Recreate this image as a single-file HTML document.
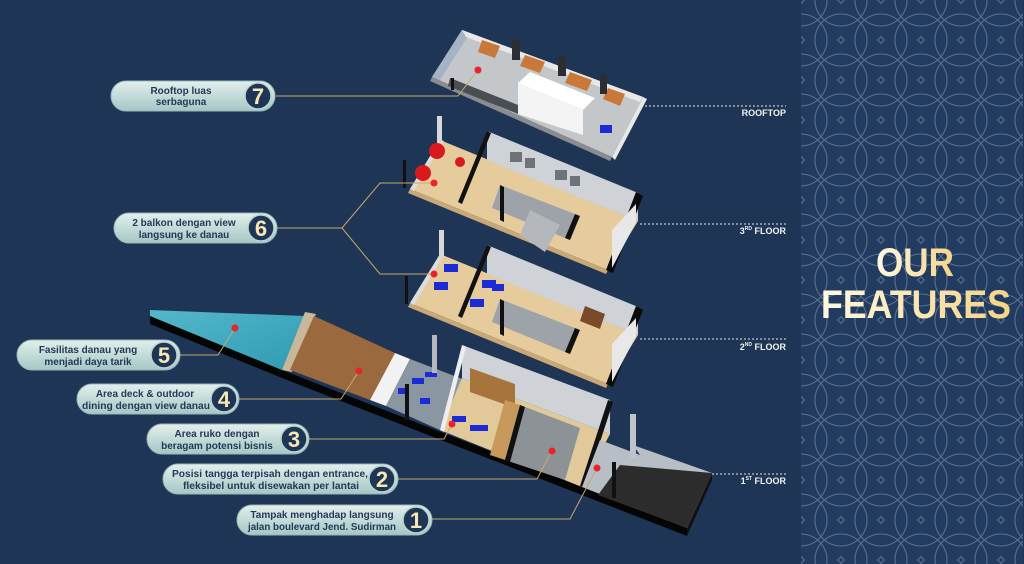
<!DOCTYPE html>
<html><head><meta charset="utf-8"><style>
html,body{margin:0;padding:0;background:#1e3555;}
svg{display:block}
.pt{font-family:"Liberation Sans",sans-serif;font-size:10px;font-weight:bold;fill:#26375a;text-anchor:middle}
.num{font-family:"Liberation Sans",sans-serif;font-size:22px;font-weight:bold;fill:#f8e6b4;text-anchor:middle}
.fl{font-family:"Liberation Sans",sans-serif;font-size:9px;font-weight:bold;fill:#f2f2f2;text-anchor:end}
.ln{stroke:#c9a86c;stroke-width:1;fill:none}
.dot{fill:#e8242a}
</style></head><body>
<svg width="1024" height="564" viewBox="0 0 1024 564" xmlns="http://www.w3.org/2000/svg">
<defs>
<linearGradient id="pill" x1="0" y1="0" x2="0" y2="1"><stop offset="0" stop-color="#e2f0ec"/><stop offset="1" stop-color="#a5c7c5"/></linearGradient>
<linearGradient id="gold" x1="0" y1="0" x2="1" y2="0"><stop offset="0" stop-color="#fff8e2"/><stop offset="1" stop-color="#f4d486"/></linearGradient>
<linearGradient id="water" x1="0" y1="0" x2="1" y2="1"><stop offset="0" stop-color="#55b8cb"/><stop offset="1" stop-color="#2f9bb3"/></linearGradient>
<pattern id="flo" width="40" height="40" patternUnits="userSpaceOnUse" x="801" y="0">
<g fill="none" stroke="#5a7090" stroke-width="1.1">
<circle cx="0" cy="0" r="26"/><circle cx="40" cy="0" r="26"/><circle cx="0" cy="40" r="26"/><circle cx="40" cy="40" r="26"/><circle cx="20" cy="20" r="26"/>
</g></pattern>
</defs>
<rect width="1024" height="564" fill="#1e3555"/>
<!-- right panel -->
<rect x="801" y="0" width="222" height="564" fill="#213c60"/>
<rect x="801" y="0" width="222" height="564" fill="url(#flo)"/>
<text x="915" y="276" font-family="Liberation Sans,sans-serif" font-weight="bold" font-size="40" fill="url(#gold)" text-anchor="middle" textLength="78" lengthAdjust="spacingAndGlyphs">OUR</text>
<text x="916" y="318" font-family="Liberation Sans,sans-serif" font-weight="bold" font-size="40" fill="url(#gold)" text-anchor="middle" textLength="190" lengthAdjust="spacingAndGlyphs">FEATURES</text>

<!-- floor labels -->
<g stroke="#e6e6e6" stroke-width="1" stroke-dasharray="2,2">
<line x1="645" y1="106" x2="786" y2="106"/><line x1="640" y1="224" x2="786" y2="224"/>
<line x1="640" y1="339" x2="786" y2="339"/><line x1="712" y1="474" x2="786" y2="474"/>
</g>
<text class="fl" x="786" y="116">ROOFTOP</text>
<text class="fl" x="786" y="234">3<tspan font-size="5" dy="-4">RD</tspan><tspan dy="4"> FLOOR</tspan></text>
<text class="fl" x="786" y="350">2<tspan font-size="5" dy="-4">ND</tspan><tspan dy="4"> FLOOR</tspan></text>
<text class="fl" x="786" y="484">1<tspan font-size="5" dy="-4">ST</tspan><tspan dy="4"> FLOOR</tspan></text>

<!-- ===== GROUND STRIP ===== -->
<polygon points="150,316 282,370 687,528 687,536 282,378 150,324" fill="#050505"/>
<polygon points="687,528 712,473 712,480 687,536" fill="#111"/>
<polygon points="150,310 305,316 282,370 150,316" fill="url(#water)"/>
<polygon points="305,312 316,314 292,372 282,370" fill="#c9b79a"/>
<polygon points="314,316 395,353 370,400 290,370" fill="#9a6a3e"/>
<polygon points="395,353 410,359 386,406 370,400" fill="#f2f2f2"/>
<polygon points="410,359 465,380 440,430 386,406" fill="#8b96a3"/>
<!-- building 1 -->
<polygon points="462,378 610,434 582,487 440,430" fill="#e2c99a"/>
<polygon points="462,345 610,400 610,434 462,378" fill="#cfd3d8"/>
<polygon points="462,345 466,347 444,432 440,430" fill="#eeeeee"/>
<polygon points="608,400 613,402 585,488 580,486" fill="#111"/>
<polygon points="470,368 515,384 515,408 470,392" fill="#a7743e"/>
<polygon points="505,400 520,405 505,460 490,455" fill="#c6995b"/>
<polygon points="520,405 580,428 565,480 505,460" fill="#8d9297"/>
<polygon points="520,405 525,407 510,462 505,460" fill="#111"/>
<g fill="#1b2bd6"><rect x="452" y="416" width="14" height="6"/><rect x="470" y="425" width="18" height="6"/><rect x="412" y="378" width="12" height="6"/><rect x="420" y="398" width="10" height="6"/><rect x="398" y="388" width="10" height="6"/><rect x="425" y="372" width="12" height="5"/></g>
<polygon points="582,487 600,440 640,455 633,445 712,473 687,528" fill="#b8bec5"/>
<polygon points="620,465 712,473 687,528 598,495" fill="#2c2c2c"/>
<rect x="630" y="414" width="6" height="44" fill="#c0c4c8"/>
<rect x="405" y="384" width="4" height="36" fill="#111"/>
<rect x="612" y="462" width="4" height="36" fill="#111"/>
<rect x="432" y="335" width="5" height="38" fill="#b5b9bd"/>

<!-- ===== 2ND FLOOR ===== -->
<g transform="translate(0,114)">
<polygon points="440,140 638,221 608,270 410,189" fill="#e6cc9d"/>
<polygon points="410,189 608,270 606,274 408,193" fill="#c9a877"/>
<polygon points="487,131 638,193 638,221 487,160" fill="#cfd2d6"/>
<polygon points="487,131 491,133 462,204 458,202" fill="#111"/>
<polygon points="636,192 643,196 613,273 606,270" fill="#0b0b0b"/>
<polygon points="612,230 636,204 636,222 612,268" fill="#e8e8e8"/>
<polygon points="500,185 575,214 565,238 492,208" fill="#9da3a9"/>
<polygon points="500,185 504,187 504,222 500,220" fill="#111"/>
<polygon points="575,214 580,216 570,240 565,238" fill="#111"/>
<polygon points="440,140 444,141 414,191 410,189" fill="#ddd"/>
<rect x="439" y="116" width="5" height="28" fill="#d8d8d8"/>
<rect x="405" y="162" width="3" height="28" fill="#111"/>
<polygon points="585,192 605,200 600,215 580,207" fill="#7a4a2a"/>
<g fill="#1b2bd6"><rect x="444" y="150" width="14" height="8"/><rect x="434" y="168" width="14" height="8"/><rect x="482" y="166" width="14" height="8"/><rect x="470" y="185" width="14" height="8"/><rect x="492" y="170" width="12" height="7"/></g>
</g>

<!-- ===== 3RD FLOOR ===== -->
<polygon points="440,140 638,221 608,270 410,189" fill="#e6cc9d"/>
<polygon points="410,189 608,270 606,274 408,193" fill="#c9a877"/>
<polygon points="487,131 638,193 638,221 487,160" fill="#cfd2d6"/>
<polygon points="487,131 491,133 462,204 458,202" fill="#111"/>
<polygon points="636,192 643,196 613,273 606,270" fill="#0b0b0b"/>
<polygon points="612,230 636,204 636,222 612,268" fill="#e8e8e8"/>
<polygon points="500,185 575,214 565,238 492,208" fill="#9da3a9"/>
<polygon points="500,185 504,187 504,222 500,220" fill="#111"/>
<polygon points="575,214 580,216 570,240 565,238" fill="#111"/>
<polygon points="530,210 560,225 545,252 520,235" fill="#b4b8bc"/>
<polygon points="440,140 444,141 414,191 410,189" fill="#ddd"/>
<rect x="437" y="116" width="5" height="28" fill="#d8d8d8"/>
<rect x="403" y="160" width="3" height="28" fill="#111"/>
<circle cx="437" cy="151" r="8" fill="#d9191e"/><circle cx="423" cy="173" r="8" fill="#d9191e"/><circle cx="460" cy="162" r="5" fill="#d9191e"/>
<g fill="#6d7379"><rect x="510" y="152" width="12" height="10"/><rect x="525" y="158" width="10" height="10"/><rect x="555" y="170" width="12" height="10"/><rect x="570" y="176" width="10" height="10"/></g>

<!-- ===== ROOFTOP ===== -->
<polygon points="462,30 643,97 612,157 432,77" fill="#c4c7ca"/>
<polygon points="432,77 612,157 610,161 430,81" fill="#8a8d90"/>
<polygon points="462,30 470,33 440,80 432,77" fill="#a4b4c4"/>
<polygon points="462,30 643,97 640,102 466,37" fill="#e8e8e8"/>
<polygon points="643,97 647,99 615,160 612,157" fill="#e8e8e8"/>
<g fill="#c8793a"><polygon points="482,40 500,46 495,58 478,52"/><polygon points="525,55 545,62 540,73 520,66"/><polygon points="570,72 592,80 587,91 565,83"/><polygon points="608,88 625,94 620,106 603,99"/></g>
<g fill="#2a2e33"><rect x="512" y="40" width="8" height="20"/><rect x="558" y="56" width="8" height="20"/><rect x="600" y="74" width="7" height="20"/></g>
<polygon points="518,83 530,72 595,98 583,110" fill="#ffffff"/>
<polygon points="518,83 583,110 583,135 518,114" fill="#f4f4f4"/>
<polygon points="450,78 518,105 518,114 448,86" fill="#4a4d52"/>
<g fill="#1b2bd6"><rect x="600" y="125" width="12" height="8"/></g>
<rect x="451" y="78" width="3" height="12" fill="#111"/>

<!-- connectors -->
<polyline class="ln" points="276,96 458,96 478,70"/>
<polyline class="ln" points="276,228 342,228 380,183 433,183"/>
<polyline class="ln" points="342,228 380,274 433,274"/>
<polyline class="ln" points="180,355 218,355 235,328"/>
<polyline class="ln" points="239,399 341,399 359,371"/>
<polyline class="ln" points="309,439 444,439 452,424"/>
<polyline class="ln" points="398,479 537,479 552,451"/>
<polyline class="ln" points="432,519 570,519 597,468"/>
<g class="dot"><circle cx="478" cy="70" r="3.5"/><circle cx="434" cy="183" r="3.5"/><circle cx="434" cy="274" r="3.5"/><circle cx="235" cy="328" r="3.5"/><circle cx="359" cy="371" r="3.5"/><circle cx="452" cy="424" r="3.5"/><circle cx="552" cy="451" r="3.5"/><circle cx="597" cy="468" r="3.5"/></g>

<!-- pills -->
<g>
<rect x="111" y="81" width="164" height="30" rx="15" fill="url(#pill)" stroke="#9ab8b8"/>
<text class="pt" x="181" y="94">Rooftop luas</text><text class="pt" x="181" y="105">serbaguna</text>
<circle cx="258" cy="96" r="13" fill="#1e3555" stroke="#b9d3d1" stroke-width="1.5"/><text class="num" x="258" y="104">7</text>

<rect x="114" y="213" width="163" height="30" rx="15" fill="url(#pill)" stroke="#9ab8b8"/>
<text class="pt" x="184" y="226">2 balkon dengan view</text><text class="pt" x="184" y="238">langsung ke danau</text>
<circle cx="261" cy="228" r="13" fill="#1e3555" stroke="#b9d3d1" stroke-width="1.5"/><text class="num" x="261" y="236">6</text>

<rect x="17" y="340" width="163" height="30" rx="15" fill="url(#pill)" stroke="#9ab8b8"/>
<text class="pt" x="88" y="353">Fasilitas danau yang</text><text class="pt" x="88" y="365">menjadi daya tarik</text>
<circle cx="164" cy="355" r="13" fill="#1e3555" stroke="#b9d3d1" stroke-width="1.5"/><text class="num" x="164" y="363">5</text>

<rect x="77" y="384" width="162" height="30" rx="15" fill="url(#pill)" stroke="#9ab8b8"/>
<text class="pt" x="145" y="397">Area deck &amp; outdoor</text><text class="pt" x="146" y="409" textLength="128" lengthAdjust="spacingAndGlyphs">dining dengan view danau</text>
<circle cx="224" cy="399" r="13" fill="#1e3555" stroke="#b9d3d1" stroke-width="1.5"/><text class="num" x="224" y="407">4</text>

<rect x="147" y="424" width="162" height="30" rx="15" fill="url(#pill)" stroke="#9ab8b8"/>
<text class="pt" x="217" y="437">Area ruko dengan</text><text class="pt" x="217" y="449">beragam potensi bisnis</text>
<circle cx="294" cy="439" r="13" fill="#1e3555" stroke="#b9d3d1" stroke-width="1.5"/><text class="num" x="294" y="447">3</text>

<rect x="163" y="464" width="235" height="30" rx="15" fill="url(#pill)" stroke="#9ab8b8"/>
<text class="pt" x="270" y="477" textLength="196" lengthAdjust="spacingAndGlyphs">Posisi tangga terpisah dengan entrance,</text><text class="pt" x="271" y="489" textLength="176" lengthAdjust="spacingAndGlyphs">fleksibel untuk disewakan per lantai</text>
<circle cx="382" cy="479" r="13" fill="#1e3555" stroke="#b9d3d1" stroke-width="1.5"/><text class="num" x="382" y="487">2</text>

<rect x="237" y="505" width="195" height="30" rx="15" fill="url(#pill)" stroke="#9ab8b8"/>
<text class="pt" x="322" y="518">Tampak menghadap langsung</text><text class="pt" x="322" y="530" textLength="148" lengthAdjust="spacingAndGlyphs">jalan boulevard Jend. Sudirman</text>
<circle cx="416" cy="520" r="13" fill="#1e3555" stroke="#b9d3d1" stroke-width="1.5"/><text class="num" x="416" y="528">1</text>
</g>
</svg>
</body></html>
